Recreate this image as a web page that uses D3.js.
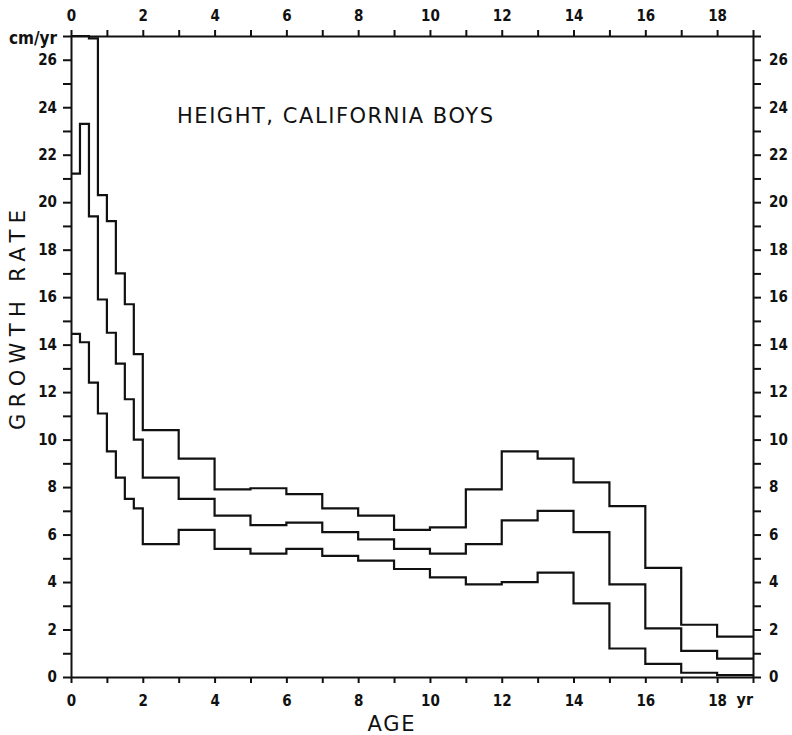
<!DOCTYPE html>
<html>
<head>
<meta charset="utf-8">
<script src="https://cdn.jsdelivr.net/npm/d3@7"></script>
<style>
  body { margin: 0; background: #fff; }
  svg { display: block; }
  text { font-family: "DejaVu Sans Condensed", "Liberation Sans Narrow", "DejaVu Sans", sans-serif; fill: #111; }
  .axis path, .axis line { stroke: #111; stroke-width: 2; }
  .axis text { font-size: 15px; font-weight: bold; }
  .lab { font-family: "DejaVu Sans", sans-serif; }
</style>
</head>
<body>
<svg width="792" height="735"></svg>
<script>
// age interval edges: quarters up to 2 yr, then whole years
const ageEdges = [0, 0.25, 0.5, 0.75, 1, 1.25, 1.5, 1.75, 2, 3, 4, 5, 6, 7, 8, 9, 10, 11, 12, 13, 14, 15, 16, 17, 18, 19];

// growth rate (cm/yr) for each interval
const upper = [27.0, 27.0, 26.9, 20.3, 19.2, 17.0, 15.7, 13.6,
  10.4, 9.2, 7.9, 7.95, 7.7, 7.1, 6.8, 6.2, 6.3, 7.9, 9.5, 9.2, 8.2, 7.2, 4.6, 2.2, 1.7];
const middle = [21.2, 23.3, 19.4, 15.9, 14.5, 13.2, 11.7, 10.0,
  8.4, 7.5, 6.8, 6.4, 6.5, 6.1, 5.8, 5.4, 5.2, 5.6, 6.6, 7.0, 6.1, 3.9, 2.05, 1.1, 0.77];
const lower = [14.45, 14.1, 12.4, 11.1, 9.5, 8.4, 7.5, 7.1,
  5.6, 6.2, 5.4, 5.2, 5.4, 5.1, 4.9, 4.55, 4.2, 3.9, 4.0, 4.4, 3.1, 1.2, 0.55, 0.18, 0.08];

const xTicks = d3.range(0, 20);
const yTicks = d3.range(0, 28);

const margin = {top: 36, right: 39, bottom: 58, left: 71};
const width = 792 - margin.left - margin.right;
const height = 735 - margin.top - margin.bottom;

const svg = d3.select("svg");
const chart = svg.append("g")
  .attr("transform", "translate(" + margin.left + "," + margin.top + ")");

const x = d3.scaleLinear().domain([0, 19]).range([0, width]);
const y = d3.scaleLinear().domain([0, 27]).range([height, 0]);

const evenX = d => (d % 2 === 0 && d < 19) ? d : "";
const evenY = d => d % 2 === 0 ? d : "";

chart.append("g").attr("class", "axis")
  .attr("transform", "translate(0," + height + ")")
  .call(d3.axisBottom(x).tickValues(xTicks).tickFormat(evenX).tickSize(6).tickSizeOuter(0).tickPadding(12));

chart.append("g").attr("class", "axis")
  .call(d3.axisTop(x).tickValues(xTicks).tickFormat(evenX).tickSize(6).tickSizeOuter(0).tickPadding(9));

const leftAxis = chart.append("g").attr("class", "axis")
  .call(d3.axisLeft(y).tickValues(yTicks).tickFormat(d => d === 27 ? "cm/yr" : evenY(d)).tickSize(8).tickSizeOuter(0).tickPadding(6));
leftAxis.selectAll("text").filter(d => d === 27).style("font-size", "17px").attr("dy", "0.45em");

chart.append("g").attr("class", "axis")
  .attr("transform", "translate(" + width + ",0)")
  .call(d3.axisRight(y).tickValues(yTicks).tickFormat(d => d === 27 ? "" : evenY(d)).tickSize(8).tickSizeOuter(0).tickPadding(8));

// step curves
const line = d3.line()
  .x(d => x(d[0]))
  .y(d => y(d[1]))
  .curve(d3.curveStepAfter);

[upper, middle, lower].forEach(vals => {
  const pts = vals.map((v, i) => [ageEdges[i], v]);
  pts.push([ageEdges[ageEdges.length - 1], vals[vals.length - 1]]);
  chart.append("path")
    .datum(pts)
    .attr("fill", "none")
    .attr("stroke", "#111")
    .attr("stroke-width", 2.2)
    .attr("d", line);
});

// labels
chart.append("text")
  .attr("x", x(19)).attr("y", height + 28)
  .attr("text-anchor", "end")
  .style("font-size", "16px").style("font-weight", "bold")
  .text("yr");

chart.append("text").attr("class", "lab")
  .attr("x", 106).attr("y", 123 - margin.top)
  .style("font-size", "21px")
  .attr("textLength", 316).attr("lengthAdjust", "spacing")
  .text("HEIGHT, CALIFORNIA BOYS");

svg.append("text").attr("class", "lab")
  .attr("x", 391).attr("y", 731)
  .attr("text-anchor", "middle")
  .style("font-size", "21px")
  .attr("textLength", 47).attr("lengthAdjust", "spacing")
  .text("AGE");

svg.append("text").attr("class", "lab")
  .attr("transform", "translate(25,320) rotate(-90)")
  .attr("text-anchor", "middle")
  .style("font-size", "21px")
  .attr("textLength", 220).attr("lengthAdjust", "spacing")
  .text("GROWTH RATE");
</script>
</body>
</html>
